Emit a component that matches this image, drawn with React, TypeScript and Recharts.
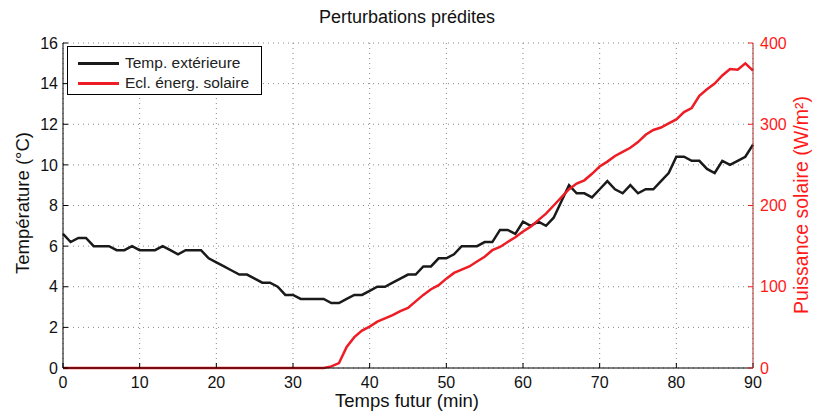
import React from 'react';
import { LineChart, Line, XAxis, YAxis, CartesianGrid, Legend } from 'recharts';

const minutes: number[] = Array.from({ length: 91 }, (_, i) => i);

const tempExt: number[] = [
  6.6, 6.2, 6.4, 6.4, 6.0, 6.0, 6.0, 5.8, 5.8, 6.0,
  5.8, 5.8, 5.8, 6.0, 5.8, 5.6, 5.8, 5.8, 5.8, 5.4,
  5.2, 5.0, 4.8, 4.6, 4.6, 4.4, 4.2, 4.2, 4.0, 3.6,
  3.6, 3.4, 3.4, 3.4, 3.4, 3.2, 3.2, 3.4, 3.6, 3.6,
  3.8, 4.0, 4.0, 4.2, 4.4, 4.6, 4.6, 5.0, 5.0, 5.4,
  5.4, 5.6, 6.0, 6.0, 6.0, 6.2, 6.2, 6.8, 6.8, 6.6,
  7.2, 7.0, 7.2, 7.0, 7.4, 8.2, 9.0, 8.6, 8.6, 8.4,
  8.8, 9.2, 8.8, 8.6, 9.0, 8.6, 8.8, 8.8, 9.2, 9.6,
  10.4, 10.4, 10.2, 10.2, 9.8, 9.6, 10.2, 10.0, 10.2, 10.4,
  11.0,
];

const solarPower: number[] = [
  0, 0, 0, 0, 0, 0, 0, 0, 0, 0,
  0, 0, 0, 0, 0, 0, 0, 0, 0, 0,
  0, 0, 0, 0, 0, 0, 0, 0, 0, 0,
  0, 0, 0, 0, 0, 2, 6, 26, 38, 46,
  51, 57, 61, 65, 70, 74, 82, 90, 97, 102,
  110, 117, 121, 125, 131, 137, 145, 149, 155, 161,
  168, 174, 182, 190, 200, 210, 220, 227, 231, 239,
  248, 254, 261, 266, 271, 278, 287, 293, 296, 301,
  306, 315, 320, 335, 343, 350, 360, 368, 367, 375,
  366,
];

const xTicks: number[] = [0, 10, 20, 30, 40, 50, 60, 70, 80, 90];
const leftTicks: number[] = [0, 2, 4, 6, 8, 10, 12, 14, 16];
const rightTicks: number[] = [0, 100, 200, 300, 400];

const seriesNames = ['Temp. extérieure', 'Ecl. énerg. solaire'];
const titleText = 'Perturbations prédites';
const xLabelText = 'Temps futur (min)';
const leftLabelText = 'Température (°C)';
const rightLabelText = 'Puissance solaire (W/m²)';

const data = minutes.map((m, i) => ({ t: m, temp: tempExt[i], solar: solarPower[i] }));

const FONT = '"Liberation Sans", Arial, Helvetica, sans-serif';
const BLACK = '#1a1a1a';
const RED = '#ee1c24';
const RED_TEXT = '#ff1a1a';
const RED_AXIS = '#a82a2a';

const LegendBox = (props: any) => {
  const payload = [...(props.payload || [])].sort(
    (a: any, b: any) => seriesNames.indexOf(a.value) - seriesNames.indexOf(b.value)
  );
  return (
    <div
      style={{
        border: '1px solid #000',
        background: '#fff',
        width: 193,
        height: 47,
        boxSizing: 'content-box',
        fontFamily: FONT,
        fontSize: 15.5,
        color: '#222',
        position: 'relative',
      }}
    >
      {payload.map((p: any, i: number) => (
        <div
          key={i}
          style={{ position: 'absolute', left: 0, top: 6 + i * 20, height: 20, display: 'flex', alignItems: 'center' }}
        >
          <div style={{ marginLeft: 10, width: 41, height: 3, background: p.color }} />
          <span style={{ marginLeft: 6, whiteSpace: 'nowrap' }}>{p.value}</span>
        </div>
      ))}
    </div>
  );
};

export default function App() {
  return (
    <div style={{ position: 'absolute', left: 0, top: 0, width: 814, height: 412, background: '#fff', fontFamily: FONT }}>
      <div style={{ position: 'absolute', left: 0, width: 814, top: 6, textAlign: 'center', fontSize: 18, color: '#111', lineHeight: '22px' }}>
        {titleText}
      </div>
      <div style={{ position: 'absolute', left: 0, width: 814, top: 390, textAlign: 'center', fontSize: 18.5, color: '#111', lineHeight: '22px' }}>
        {xLabelText}
      </div>
      <div style={{ position: 'absolute', left: 23, top: 203, width: 0, height: 0 }}>
        <div style={{ position: 'absolute', transform: 'translate(-50%, -50%) rotate(-90deg)', whiteSpace: 'nowrap', fontSize: 18.5, color: '#111', lineHeight: '22px' }}>
          {leftLabelText}
        </div>
      </div>
      <div style={{ position: 'absolute', left: 801, top: 205, width: 0, height: 0 }}>
        <div style={{ position: 'absolute', transform: 'translate(-50%, -50%) rotate(-90deg)', whiteSpace: 'nowrap', fontSize: 19.5, color: RED_TEXT, lineHeight: '22px' }}>
          {rightLabelText}
        </div>
      </div>
      <LineChart
        width={814}
        height={412}
        data={data}
        margin={{ top: 43, right: 0, bottom: 0, left: 0 }}
        style={{ position: 'absolute', left: 0, top: 0 }}
      >
        <CartesianGrid
          xAxisId="bottom"
          yAxisId="left"
          stroke="#888"
          strokeDasharray="1 4"
          strokeWidth={1}
        />
        <XAxis
          xAxisId="bottom"
          dataKey="t"
          type="number"
          domain={[0, 90]}
          ticks={xTicks}
          interval={0}
          height={44}
          allowDecimals={false}
          stroke="#000"
          tickSize={-5}
          tickMargin={14}
          tick={{ fill: '#111', fontSize: 16, fontFamily: FONT }}
        />
        <XAxis
          xAxisId="top"
          dataKey="t"
          type="number"
          orientation="top"
          domain={[0, 90]}
          ticks={xTicks}
          interval={0}
          height={0}
          stroke="#000"
          tickSize={-5}
          tickFormatter={() => ''}
        />
        <YAxis
          yAxisId="left"
          orientation="left"
          domain={[0, 16]}
          ticks={leftTicks}
          interval={0}
          width={63}
          stroke="#000"
          tickSize={-5}
          tickMargin={10}
          tick={{ fill: '#111', fontSize: 16, fontFamily: FONT }}
        />
        <YAxis
          yAxisId="right"
          orientation="right"
          domain={[0, 400]}
          ticks={rightTicks}
          interval={0}
          width={61}
          stroke={RED_AXIS}
          tickLine={{ stroke: RED }}
          tickSize={-5}
          tickMargin={12}
          tick={{ fill: RED_TEXT, fontSize: 16, fontFamily: FONT }}
        />
        <Legend
          layout="vertical"
          align="center"
          verticalAlign="middle"
          wrapperStyle={{ left: 67, top: 46, width: 'auto', height: 'auto' }}
          content={LegendBox}
        />
        <Line
          xAxisId="bottom"
          yAxisId="left"
          type="linear"
          dataKey="temp"
          name={seriesNames[0]}
          stroke={BLACK}
          strokeWidth={2.5}
          dot={false}
          activeDot={false}
          isAnimationActive={false}
        />
        <Line
          xAxisId="bottom"
          yAxisId="right"
          type="linear"
          dataKey="solar"
          name={seriesNames[1]}
          stroke={RED}
          strokeWidth={2.5}
          dot={false}
          activeDot={false}
          isAnimationActive={false}
        />
      </LineChart>
    </div>
  );
}
